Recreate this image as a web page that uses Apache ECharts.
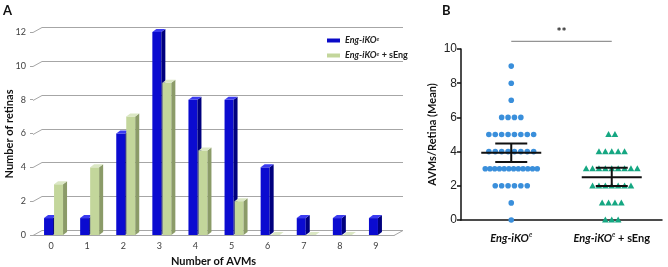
<!DOCTYPE html>
<html>
<head>
<meta charset="utf-8">
<script src="https://cdn.jsdelivr.net/npm/echarts@6/dist/echarts.min.js"></script>
<style>
  html, body { margin: 0; padding: 0; background: #fff; }
  #main { width: 668px; height: 267px; }
</style>
</head>
<body>
<div id="main"></div>
<script>
// panel A: number of retinas per AVM count
const avmCounts = ['0', '1', '2', '3', '4', '5', '6', '7', '8', '9']
const ikoRetinas = [1, 1, 6, 12, 8, 8, 4, 1, 1, 1]
const sEngRetinas = [3, 4, 7, 9, 5, 2, 0, 0, 0, null]
const retinaTicks = [0, 2, 4, 6, 8, 10, 12]

// panel B: mean with 95% CI
const groups = ['Eng-iKOe', 'Eng-iKOe + sEng']
const groupMeans = [3.93, 2.5]
const ciLow = [3.39, 1.99]
const ciHigh = [4.48, 3.06]
const sigLevel = 10.45

const FONT = 'Lato'
const DX = 9, DY = -5 // depth of the back wall

const myChart = echarts.init(document.getElementById('main'))

// back wall + floor of the 3d chart
function renderWall(params, api) {
  const cs = params.coordSys
  const v = api.value(1)
  const y = Math.round(api.coord([0, v])[1]) + 0.5
  const children = [{
    type: 'polyline',
    shape: { points: [[cs.x, y], [cs.x + DX, y + DY], [cs.x + cs.width + DX, y + DY]] },
    style: { stroke: '#a6a6a6', lineWidth: 1, fill: null }
  }]
  if (v === 0) {
    children.push({
      type: 'line',
      shape: { x1: cs.x + cs.width, y1: y, x2: cs.x + cs.width + DX, y2: y + DY },
      style: { stroke: '#a6a6a6', lineWidth: 1 }
    })
  }
  return { type: 'group', children }
}

function bar3d(offset, front, side, top) {
  return function (params, api) {
    const v = api.value(1)
    if (isNaN(v)) return null
    const base = api.coord([api.value(0), 0])
    const head = api.coord([api.value(0), v])
    const x0 = base[0] + offset, w = 9, d = 4, dz = -3
    const yb = base[1], yt = head[1]
    return {
      type: 'group',
      children: [
        { type: 'rect', shape: { x: x0, y: yt, width: w, height: yb - yt }, style: { fill: front } },
        { type: 'polygon', shape: { points: [[x0 + w, yt], [x0 + w + d, yt + dz], [x0 + w + d, yb + dz], [x0 + w, yb]] }, style: { fill: side } },
        { type: 'polygon', shape: { points: [[x0, yt], [x0 + d, yt + dz], [x0 + w + d, yt + dz], [x0 + w, yt]] }, style: { fill: top } }
      ]
    }
  }
}

// scatter points of panel B, rebuilt from the counts
function buildPoints(counts, g) {
  const out = []
  counts.forEach((c, i) => {
    if (!c) return
    for (let k = 0; k < c; k++) out.push([g, Number(avmCounts[i]), k, c])
  })
  return out
}

function renderPoint(params, api) {
  const g = api.value(0), k = api.value(2), n = api.value(3)
  const p = api.coord([g, api.value(1)])
  const step = n > 1 ? Math.min(6.4, 52 / (n - 1)) : 0
  const x = p[0] + (k - (n - 1) / 2) * step
  const y = p[1]
  if (g === 0) {
    return { type: 'circle', shape: { cx: x, cy: y, r: 2.8 }, style: { fill: '#3a8fdb' } }
  }
  return {
    type: 'polygon',
    shape: { points: [[x, y - 3.4], [x + 3.3, y + 2.6], [x - 3.3, y + 2.6]] },
    style: { fill: '#15a782' }
  }
}

function renderMean(params, api) {
  const g = api.value(0)
  const m = api.coord([g, api.value(1)])
  const lo = api.coord([g, api.value(2)])
  const hi = api.coord([g, api.value(3)])
  const st = { stroke: '#111', lineWidth: 2 }
  return {
    type: 'group',
    children: [
      { type: 'line', shape: { x1: m[0] - 30, y1: m[1], x2: m[0] + 30, y2: m[1] }, style: st },
      { type: 'line', shape: { x1: m[0] - 16, y1: lo[1], x2: m[0] + 16, y2: lo[1] }, style: st },
      { type: 'line', shape: { x1: m[0] - 16, y1: hi[1], x2: m[0] + 16, y2: hi[1] }, style: st },
      { type: 'line', shape: { x1: m[0], y1: lo[1], x2: m[0], y2: hi[1] }, style: st }
    ]
  }
}

function renderSig(params, api) {
  const a = api.coord([0, api.value(1)])
  const b = api.coord([1, api.value(1)])
  return {
    type: 'group',
    children: [
      { type: 'line', shape: { x1: a[0], y1: a[1], x2: b[0], y2: b[1] }, style: { stroke: '#7a7a7a', lineWidth: 1 } },
      { type: 'text', style: { text: '**', x: (a[0] + b[0]) / 2, y: a[1] - 3, align: 'center', verticalAlign: 'bottom', font: 'bold 12px ' + FONT, fill: '#222' } }
    ]
  }
}

const legendRich = {
  i: { fontFamily: FONT, fontStyle: 'italic', fontWeight: 'bold', fontSize: 9, color: '#222' },
  s: { fontFamily: FONT, fontStyle: 'italic', fontSize: 6, color: '#222', verticalAlign: 'top', lineHeight: 7 },
  n: { fontFamily: FONT, fontWeight: 'bold', fontSize: 9, color: '#222' }
}
const catRich = {
  i: { fontFamily: FONT, fontStyle: 'italic', fontWeight: 'bold', fontSize: 11, color: '#111', lineHeight: 14 },
  s: { fontFamily: FONT, fontStyle: 'italic', fontSize: 7, color: '#111', verticalAlign: 'top', lineHeight: 8 },
  n: { fontFamily: FONT, fontWeight: 'bold', fontSize: 11, color: '#111', lineHeight: 14 }
}
function groupLabel(name) {
  return name === groups[0] ? '{i|Eng-iKO}{s|e}' : '{i|Eng-iKO}{s|e}{n| + sEng}'
}

const option = {
  animation: false,
  backgroundColor: '#fff',
  textStyle: { fontFamily: FONT },
  graphic: [
    { type: 'text', left: 3, top: 4, style: { text: 'A', font: 'bold 13px ' + FONT, fill: '#111' } },
    { type: 'text', left: 442, top: 4, style: { text: 'B', font: 'bold 13px ' + FONT, fill: '#111' } },
    // y title of panel A
    {
      type: 'text', x: 9, y: 134, rotation: Math.PI / 2,
      style: { text: 'Number of retinas', font: 'bold 11px ' + FONT, fill: '#111', align: 'center', verticalAlign: 'middle' }
    }
  ],
  legend: {
    data: groups,
    orient: 'vertical',
    left: 322,
    top: 31,
    itemWidth: 13,
    itemHeight: 4,
    itemGap: 6,
    icon: 'rect',
    formatter: groupLabel,
    textStyle: { rich: legendRich }
  },
  grid: [
    { left: 33, right: 274, top: 32, bottom: 32, outerBoundsMode: 'none' },
    { left: 461, right: 6, top: 49, bottom: 47, outerBoundsMode: 'none' }
  ],
  xAxis: [
    {
      gridIndex: 0,
      type: 'category',
      data: avmCounts,
      axisLine: { lineStyle: { color: '#a6a6a6' } },
      axisTick: { length: 4, lineStyle: { color: '#a6a6a6' } },
      axisLabel: { fontSize: 9, color: '#404040', margin: 7 },
      name: 'Number of AVMs',
      nameLocation: 'middle',
      nameGap: 19,
      nameTextStyle: { fontSize: 11, fontWeight: 'bold', color: '#111' }
    },
    {
      gridIndex: 1,
      type: 'category',
      data: groups,
      axisLine: { lineStyle: { color: '#111', width: 1.5 } },
      axisTick: { show: false },
      axisLabel: { interval: 0, margin: 11, formatter: groupLabel, rich: catRich }
    }
  ],
  yAxis: [
    {
      gridIndex: 0,
      type: 'value',
      min: 0,
      max: 12,
      interval: 2,
      splitLine: { show: false },
      axisLine: { show: false },
      axisTick: { show: true, length: 3, lineStyle: { color: '#a6a6a6' } },
      axisLabel: { fontSize: 9, color: '#404040', margin: 7 }
    },
    {
      gridIndex: 1,
      type: 'value',
      min: 0,
      max: 10,
      interval: 2,
      splitLine: { show: false },
      axisLine: { show: true, lineStyle: { color: '#111', width: 1.5 } },
      axisTick: { show: true, length: 4, lineStyle: { color: '#111', width: 1.5 } },
      axisLabel: { fontSize: 12, color: '#222', margin: 4, fontFamily: 'Liberation Sans' },
      name: 'AVMs/Retina (Mean)',
      nameLocation: 'middle',
      nameGap: 23,
      nameTextStyle: { fontSize: 11, fontWeight: 'bold', color: '#111' }
    }
  ],
  series: [
    {
      name: 'wall',
      type: 'custom',
      xAxisIndex: 0,
      yAxisIndex: 0,
      z: 1,
      silent: true,
      data: retinaTicks.map(v => [0, v]),
      renderItem: renderWall
    },
    {
      name: groups[0],
      type: 'custom',
      xAxisIndex: 0,
      yAxisIndex: 0,
      z: 3,
      itemStyle: { color: '#0a0ac8' },
      data: ikoRetinas.map((v, i) => [i, v]),
      renderItem: bar3d(-7, '#0b0bd0', '#00007e', '#3b3bf0')
    },
    {
      name: groups[1],
      type: 'custom',
      xAxisIndex: 0,
      yAxisIndex: 0,
      z: 3,
      itemStyle: { color: '#c3d69b' },
      data: sEngRetinas.map((v, i) => [i, v]),
      renderItem: bar3d(3, '#c3d69b', '#8b9b68', '#dbe7c4')
    },
    {
      type: 'custom',
      xAxisIndex: 1,
      yAxisIndex: 1,
      z: 3,
      clip: false,
      data: buildPoints(ikoRetinas, 0).concat(buildPoints(sEngRetinas, 1)),
      renderItem: renderPoint
    },
    {
      type: 'custom',
      xAxisIndex: 1,
      yAxisIndex: 1,
      z: 4,
      data: groupMeans.map((m, g) => [g, m, ciLow[g], ciHigh[g]]),
      renderItem: renderMean
    },
    {
      type: 'custom',
      xAxisIndex: 1,
      yAxisIndex: 1,
      z: 4,
      clip: false,
      data: [[0, sigLevel]],
      renderItem: renderSig
    }
  ]
}

myChart.setOption(option)
window.addEventListener('resize', () => {
  myChart && myChart.resize()
})
</script>
</body>
</html>
